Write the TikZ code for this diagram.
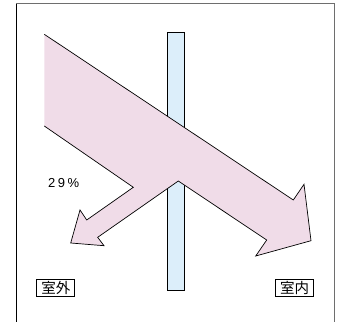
\documentclass[tikz,border=0pt]{standalone}
\usepackage{fontspec}
\setmainfont{Liberation Sans}
\newfontfamily\cjk{Noto Sans CJK JP}
\definecolor{arrowpink}{RGB}{240,220,232}
\definecolor{glassblue}{RGB}{220,238,250}
\definecolor{framegray}{RGB}{110,110,110}
\begin{document}
\begin{tikzpicture}[x=1pt,y=-1pt,
  lbl/.style={draw=black,line width=0.8pt,fill=white,inner sep=0pt,minimum width=38pt,minimum height=17pt,font=\cjk\fontsize{14.5pt}{16pt}\selectfont},
  pct/.style={font=\fontsize{13pt}{15pt}\selectfont,inner sep=0pt}]
\useasboundingbox (0,0) rectangle (337,321);
% frame
\draw[framegray,line width=1pt] (16,330) -- (16,4) -- (334.5,4) -- (334.5,330);
\draw[black,line width=1pt] (16,330) -- (16,4.5);
% glass
\node[draw=black,line width=0.8pt,fill=glassblue,inner sep=0pt,minimum width=17pt,minimum height=258pt,anchor=north west] (glass) at (167.3,32.3) {};
% arrow
\fill[arrowpink] (44.3,34.3) -- (293.3,200) -- (304,184.3) -- (311,240.7) -- (255.7,256) -- (266.7,240) -- (178.3,181) -- (97.7,237.3) -- (104,245.7) -- (70.7,243) -- (80,210) -- (86.7,220) -- (133.3,187.3) -- (44.3,126) -- cycle;
\draw[black,line width=0.7pt,line join=miter] (44.3,34.3) -- (293.3,200) -- (304,184.3) -- (311,240.7) -- (255.7,256) -- (266.7,240) -- (178.3,181) -- (97.7,237.3) -- (104,245.7) -- (70.7,243) -- (80,210) -- (86.7,220) -- (133.3,187.3) -- (44.3,126);
% texts
\node[pct,anchor=west] (p) at (48,183) {2\hspace{2.5pt}9\hspace{2.5pt}\%};
\node[lbl] (out) at (55.8,287.7) {室外};
\node[lbl] (in) at (294.5,287.7) {室内};
\end{tikzpicture}
\end{document}
